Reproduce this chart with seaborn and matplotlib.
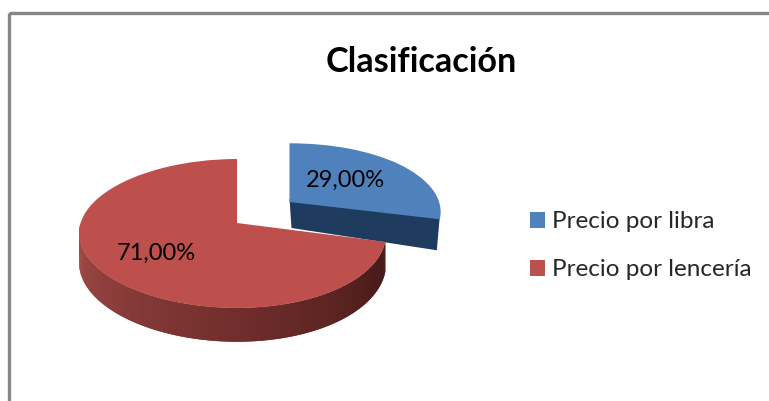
import numpy as np
import matplotlib
matplotlib.use("Agg")
import matplotlib.pyplot as plt
from matplotlib.patches import Rectangle
from matplotlib.transforms import Transform
import seaborn as sns

title = "Clasificación"
categories = ["Precio por libra", "Precio por lencería"]
values = [29.0, 71.0]
top_colors = ["#4f81bd", "#bd4f4c"]
red_wall = ["#a84c49", "#8c3e3c", "#74302e", "#5c2422", "#431816"]
blue_wall = ["#1f3c5e", "#1d3755"]

sns.set_theme(style="white")
plt.rcParams["font.family"] = ["Lato", "DejaVu Sans"]


# squashed pie with a bit of perspective, pixel coords around the wedge tip
class Tilt(Transform):
    input_dims = 2
    output_dims = 2

    def __init__(self, tip, height, width=152):
        super().__init__()
        self.tip = tip
        self.height = height
        self.width = width

    def transform_non_affine(self, xy):
        xy = np.asarray(xy)
        x, y = xy[:, 0], xy[:, 1]
        w = 1 + 0.141 * y
        return np.column_stack([self.tip[0] + (self.width * x - 4.4 * x * x) / w,
                                self.tip[1] - self.height * y / w])


fig, ax = plt.subplots(figsize=(7.69, 4.01), dpi=100)
fig.subplots_adjust(0, 0, 1, 1)

wedges, _ = ax.pie(values, colors=top_colors, startangle=90, counterclock=False,
                   wedgeprops={"edgecolor": "none", "linewidth": 0})
ax.set_aspect("auto")
ax.set_xlim(0, 769)
ax.set_ylim(401, 0)
ax.axis("off")

ax.add_patch(Rectangle((9.3, 13.3), 900, 600, fill=False, ec="#868686", lw=2.4))

blue_tilt = Tilt((289.5, 202), 67, width=154)
red_tilt = Tilt((237, 223), 73)

# blue slice: wall along the cut, then the top
t = np.radians(wedges[0].theta1)
pts = blue_tilt.transform(np.array([[0, 0], [np.cos(t), np.sin(t)]]))
wall_pal = sns.blend_palette(blue_wall, 2)
ax.fill([pts[0, 0], pts[1, 0], pts[1, 0] - 3, pts[0, 0] + 2],
        [pts[0, 1] - 3, pts[1, 1] - 3, pts[1, 1] + 31, pts[0, 1] + 26],
        color=wall_pal[0], lw=0, zorder=2)
wedges[0].set_transform(blue_tilt + ax.transData)
wedges[0].set_zorder(3)

# red slice: front of the rim in thin strips, dark to the right
ang = np.linspace(-np.pi, np.radians(wedges[1].theta2), 160)
unit = np.column_stack([np.cos(ang), np.sin(ang)])
rim = red_tilt.transform(unit)
depth = 29 / (1 + 0.141 * unit[:, 1])
shades = sns.blend_palette(red_wall, 159)
for i in range(159):
    j = min(i + 2, 159)  # overlap the next strip so no seams show
    ax.fill([rim[i, 0], rim[j, 0], rim[j, 0], rim[i, 0]],
            [rim[i, 1], rim[j, 1], rim[j, 1] + depth[j], rim[i, 1] + depth[i]],
            color=shades[i], lw=0, zorder=4)
wedges[1].set_transform(red_tilt + ax.transData)
wedges[1].set_zorder(5)

labels = [f"{v:.2f}".replace(".", ",") + "%" for v in values]
ax.text(345, 180, labels[0], ha="center", va="center", fontsize=17, color="black", zorder=6)
ax.text(156, 253, labels[1], ha="center", va="center", fontsize=17, color="black", zorder=6)

ax.text(421, 62, title, ha="center", va="center", fontsize=24.6, fontweight="bold", color="black")

leg = ax.legend(wedges, categories, loc="center left", bbox_to_anchor=(0.689, 0.387),
                frameon=False, fontsize=17.5, handlelength=0.62, handleheight=0.62,
                handletextpad=0.29, labelspacing=1.11, borderpad=0, borderaxespad=0)

fig.savefig("out.png", dpi=100)
